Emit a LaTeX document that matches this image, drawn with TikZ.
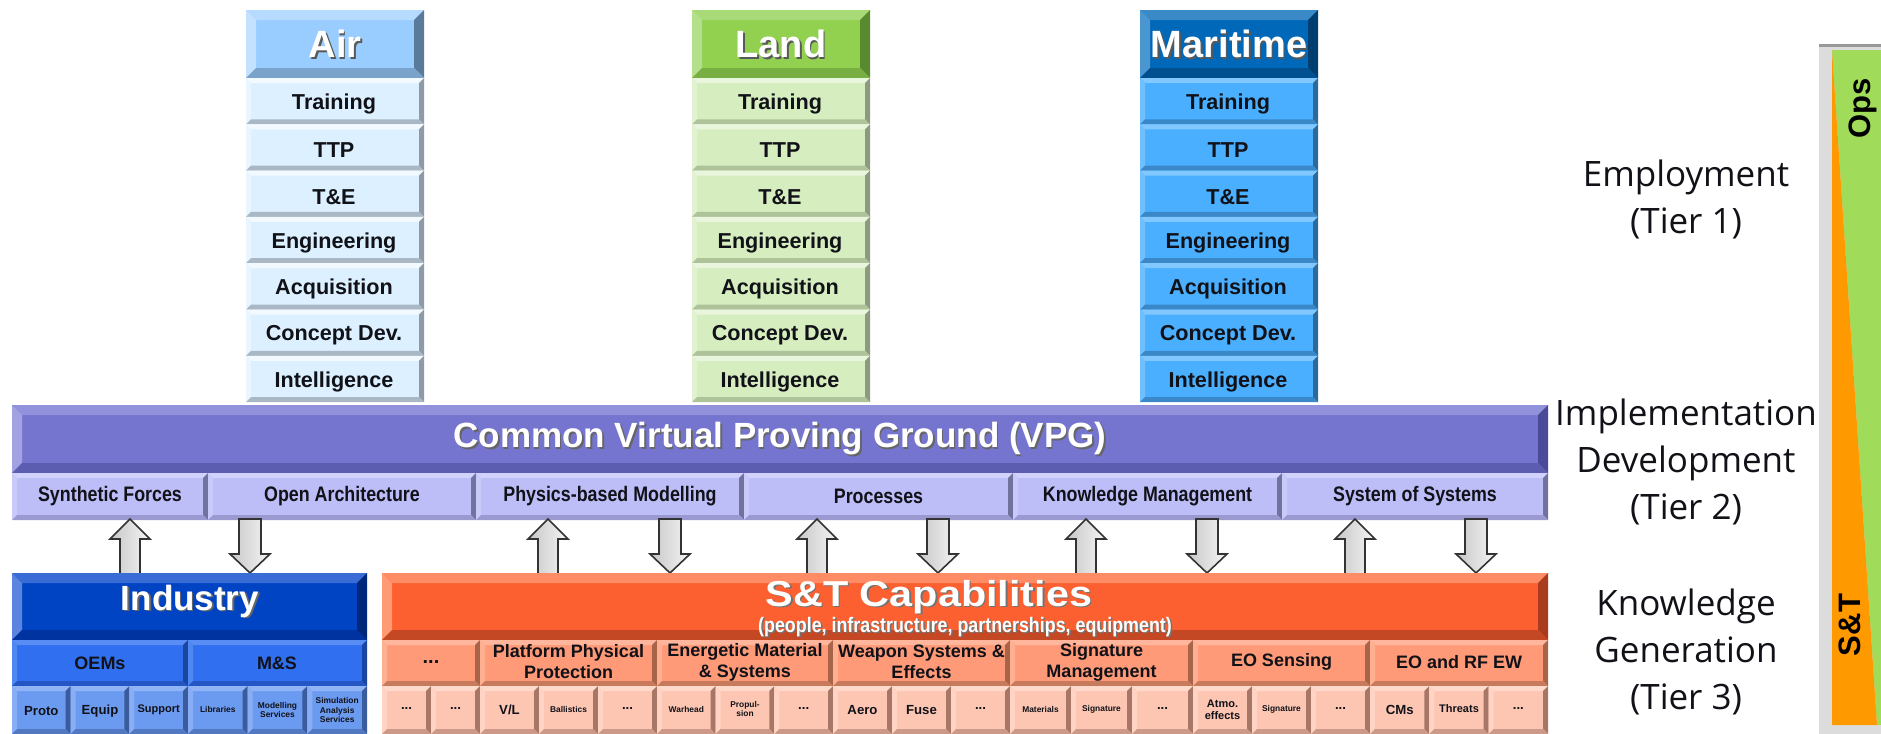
\documentclass[tikz,border=0pt]{standalone}
\usepackage{fontspec}
\setmainfont{Liberation Sans}
\newfontfamily\narrowf{Liberation Sans}[FakeStretch=0.85]
\newfontfamily\widef{Liberation Sans}[FakeStretch=1.15]
\newfontfamily\labelf{Open Sans}
\usetikzlibrary{calc}
% colour families: F face, T top, L left, R right, B bottom
\definecolor{airhF}{HTML}{99CCFF}\definecolor{airhT}{HTML}{B6DBFF}\definecolor{airhL}{HTML}{C4E2FF}\definecolor{airhR}{HTML}{5A7A99}\definecolor{airhB}{HTML}{7AA3CC}
\definecolor{airrF}{HTML}{DDF0FF}\definecolor{airrT}{HTML}{F2FAFF}\definecolor{airrL}{HTML}{E9F6FF}\definecolor{airrR}{HTML}{8E9AA6}\definecolor{airrB}{HTML}{A9B8C4}
\definecolor{landhF}{HTML}{92D050}\definecolor{landhT}{HTML}{A9DA78}\definecolor{landhL}{HTML}{B5E08B}\definecolor{landhR}{HTML}{5A8A30}\definecolor{landhB}{HTML}{78AE42}
\definecolor{landrF}{HTML}{D6EDC0}\definecolor{landrT}{HTML}{E9F6DD}\definecolor{landrL}{HTML}{E1F2D1}\definecolor{landrR}{HTML}{8C9A80}\definecolor{landrB}{HTML}{AEC39A}
\definecolor{marhF}{HTML}{0068B8}\definecolor{marhT}{HTML}{3A8AC8}\definecolor{marhL}{HTML}{4A96D0}\definecolor{marhR}{HTML}{003E70}\definecolor{marhB}{HTML}{00508F}
\definecolor{marrF}{HTML}{4AAFFF}\definecolor{marrT}{HTML}{80C8FF}\definecolor{marrL}{HTML}{70C0FF}\definecolor{marrR}{HTML}{2C6A9C}\definecolor{marrB}{HTML}{3A88C8}
\definecolor{vpgmF}{HTML}{7575D0}\definecolor{vpgmT}{HTML}{9292DC}\definecolor{vpgmL}{HTML}{A2A2E2}\definecolor{vpgmR}{HTML}{4A4A98}\definecolor{vpgmB}{HTML}{5C5CB0}
\definecolor{vpgsF}{HTML}{BDBDF8}\definecolor{vpgsT}{HTML}{D2D2FF}\definecolor{vpgsL}{HTML}{CACAFA}\definecolor{vpgsR}{HTML}{72729E}\definecolor{vpgsB}{HTML}{9A9AD0}
\definecolor{indmF}{HTML}{0044C4}\definecolor{indmT}{HTML}{3A6CD6}\definecolor{indmL}{HTML}{5A84E0}\definecolor{indmR}{HTML}{00287A}\definecolor{indmB}{HTML}{0033A0}
\definecolor{indrF}{HTML}{2F6FF0}\definecolor{indrT}{HTML}{5A8CF5}\definecolor{indrL}{HTML}{5088F2}\definecolor{indrR}{HTML}{1A45A0}\definecolor{indrB}{HTML}{2456C4}
\definecolor{indsF}{HTML}{6B9BF0}\definecolor{indsT}{HTML}{90B4F6}\definecolor{indsL}{HTML}{8AAEF5}\definecolor{indsR}{HTML}{3A5C9C}\definecolor{indsB}{HTML}{5278C2}
\definecolor{stmF}{HTML}{FD6030}\definecolor{stmT}{HTML}{FF8C64}\definecolor{stmL}{HTML}{FF9A74}\definecolor{stmR}{HTML}{A83C1C}\definecolor{stmB}{HTML}{C44824}
\definecolor{strF}{HTML}{FE9A78}\definecolor{strT}{HTML}{FFB69C}\definecolor{strL}{HTML}{FFB090}\definecolor{strR}{HTML}{A86448}\definecolor{strB}{HTML}{C87A5C}
\definecolor{stsF}{HTML}{FDC6B2}\definecolor{stsT}{HTML}{FFDACB}\definecolor{stsL}{HTML}{FFD4C4}\definecolor{stsR}{HTML}{A87666}\definecolor{stsB}{HTML}{CC9888}
\definecolor{opsgreen}{HTML}{A0DC5A}
\definecolor{storange}{HTML}{FF9900}
\definecolor{bargrey}{HTML}{DCDCDC}
\definecolor{ink}{HTML}{111118}
% bevelled box: x1 y1 x2 y2 bevel colourprefix
\newcommand{\bv}[6]{%
  \path[fill=#6F] (#1,#2) rectangle (#3,#4);
  \path[fill=#6T] (#1,#2) -- (#3,#2) -- ({#3-#5},{#2+#5}) -- ({#1+#5},{#2+#5}) -- cycle;
  \path[fill=#6L] (#1,#2) -- ({#1+#5},{#2+#5}) -- ({#1+#5},{#4-#5}) -- (#1,#4) -- cycle;
  \path[fill=#6R] (#3,#2) -- ({#3-#5},{#2+#5}) -- ({#3-#5},{#4-#5}) -- (#3,#4) -- cycle;
  \path[fill=#6B] (#1,#4) -- ({#1+#5},{#4-#5}) -- ({#3-#5},{#4-#5}) -- (#3,#4) -- cycle;
}
\newcommand{\uparr}[2]{% name, x
  \path[blockarrow] (#2-10,574) -- (#2-10,539) -- (#2-20,539) -- (#2,519) -- (#2+20,539) -- (#2+10,539) -- (#2+10,574) -- cycle;
  \coordinate (#1) at (#2,546);
}
\newcommand{\downarr}[2]{% name, x
  \path[blockarrow] (#2-11,519) -- (#2+11,519) -- (#2+11,554) -- (#2+20,554) -- (#2,573) -- (#2-20,554) -- (#2-11,554) -- cycle;
  \coordinate (#1) at (#2,546);
}
\tikzset{
  hdr/.style={font=\bfseries\fontsize{19}{22}\selectfont, text=white, inner sep=0pt},
  hdrsh/.style={hdr, text=black!65},
  rowtxt/.style={font=\bfseries\fontsize{10.8}{13}\selectfont, text=ink, inner sep=0pt},
  vpgt/.style={font=\bfseries\fontsize{17.5}{20}\selectfont, text=white, inner sep=0pt},
  vpgtsh/.style={vpgt, text=black!60},
  subtxt/.style={font=\narrowf\bfseries\fontsize{10.5}{12}\selectfont, text=ink, inner sep=0pt},
  indt/.style={font=\bfseries\fontsize{17.5}{20}\selectfont, text=white, inner sep=0pt},
  indtsh/.style={indt, text=black!60},
  stt/.style={font=\widef\bfseries\fontsize{18}{20}\selectfont, text=white, inner sep=0pt},
  sttsh/.style={stt, text=black!55},
  stsub/.style={font=\narrowf\bfseries\fontsize{10.5}{12}\selectfont, text=white, inner sep=0pt},
  stsubsh/.style={stsub, text=black!55},
  midtxt/.style={font=\bfseries\fontsize{9}{10.5}\selectfont, text=ink, inner sep=0pt, align=center},
  smA/.style={font=\bfseries\fontsize{6.6}{7.5}\selectfont, text=ink, inner sep=0pt, align=center},
  smB/.style={font=\bfseries\fontsize{5.5}{6.2}\selectfont, text=ink, inner sep=0pt, align=center},
  smC/.style={font=\bfseries\fontsize{4.2}{4.8}\selectfont, text=ink, inner sep=0pt, align=center},
  tier/.style={font=\labelf\fontsize{17.5}{23.5}\selectfont, text=ink, inner sep=0pt, align=center},
  vert/.style={font=\bfseries\fontsize{15.5}{17}\selectfont, text=black, inner sep=0pt, rotate=90},
  blockarrow/.style={draw=black!80, line width=0.8pt, line join=miter, left color=black!22, right color=black!4},
}
\begin{document}
\begin{tikzpicture}[x=0.5pt,y=-0.5pt]
\useasboundingbox (0,0) rectangle (1881,734);

% ---------- three service columns ----------
\foreach \cx/\p/\ttl in {246/air/Air,692/land/Land,1140/mar/Maritime}{
  \pgfmathsetmacro{\cxx}{\cx+178}
  \bv{\cx}{10}{\cxx}{78}{10}{\p h}
  \node[hdrsh] (\p-hs) at ({\cx+90.5},45.5) {\ttl};
  \node[hdr] (\p-h) at ({\cx+89},44) {\ttl};
  \foreach \r/\lab in {0/Training,1/TTP,2/T\&E,3/Engineering,4/Acquisition,5/Concept Dev.,6/Intelligence}{
    \pgfmathsetmacro{\ya}{78+46.3*\r}
    \pgfmathsetmacro{\yb}{\ya+46.3}
    \bv{\cx}{\ya}{\cxx}{\yb}{5}{\p r}
    \node[rowtxt] (\p-r\r) at ({\cx+88},{(\ya+\yb)/2+3}) {\lab};
  }
}

% ---------- Common VPG ----------
\bv{12}{405}{1548}{473}{10}{vpgm}
\node[vpgtsh] (vpg-s) at (781.5,440.5) {Common Virtual Proving Ground (VPG)};
\node[vpgt] (vpg) at (780,439) {Common Virtual Proving Ground (VPG)};
\foreach \a/\b/\lab/\n in {12/208/Synthetic Forces/1,208/476/Open Architecture/2,476/744/Physics-based Modelling/3,744/1013/Processes/4,1013/1282/Knowledge Management/5,1282/1548/System of Systems/6}{
  \bv{\a}{473}{\b}{520}{5}{vpgs}
  \node[subtxt] (vpg-\n) at ({(\a+\b)/2},496) {\lab};
}

% ---------- exchange arrows ----------
\uparr{u1}{130}\downarr{d1}{250}
\uparr{u2}{548}\downarr{d2}{670}
\uparr{u3}{817}\downarr{d3}{938}
\uparr{u4}{1086}\downarr{d4}{1207}
\uparr{u5}{1355}\downarr{d5}{1476}

% ---------- Industry ----------
\bv{12}{573}{367}{640}{10}{indm}
\node[indtsh] (ind-s) at (191.5,602.5) {Industry};
\node[indt] (ind) at (190,601) {Industry};
\bv{12}{640}{188}{686}{5}{indr}
\bv{188}{640}{367}{686}{5}{indr}
\node[midtxt] (oems) at (100,663) {OEMs};
\node[midtxt] (ms) at (277,663) {M\&S};
\bv{12}{686}{70.7}{734}{5}{inds}
\bv{70.7}{686}{129.3}{734}{5}{inds}
\bv{129.3}{686}{188}{734}{5}{inds}
\bv{188}{686}{247.7}{734}{5}{inds}
\bv{247.7}{686}{307.3}{734}{5}{inds}
\bv{307.3}{686}{367}{734}{5}{inds}
\node[smA] (proto) at (41.3,711) {Proto};
\node[smA] (equip) at (100,711) {Equip};
\node[smB] (support) at (158.7,710) {Support};
\node[smC] (libr) at (217.8,709) {Libraries};
\node[smC] (mods) at (277.5,710) {Modelling\\Services};
\node[smC] (sims) at (337.2,710) {Simulation\\Analysis\\Services};

% ---------- S&T Capabilities ----------
\bv{382}{573}{1548}{640}{10}{stm}
\node[sttsh] (st-s) at (930.5,598.5) {S\&T Capabilities};
\node[stt] (st) at (929,597) {S\&T Capabilities};
\node[stsubsh] (stsub-s) at (966.5,628.5) {(people, infrastructure, partnerships, equipment)};
\node[stsub] (stsub) at (965,627) {(people, infrastructure, partnerships, equipment)};
\foreach \a/\b/\lab/\n in {382/480/{\fontsize{10}{11}\selectfont...}/1,480/657/{Platform Physical\\Protection}/2,657/833/{Energetic Material\\\& Systems}/3,833/1010/{Weapon Systems \&\\Effects}/4,1010/1193/{Signature\\Management}/5,1193/1370/{EO Sensing}/6,1370/1548/{EO and RF EW}/7}{
  \bv{\a}{640}{\b}{686}{5}{str}
  \node[midtxt] (cap-\n) at ({(\a+\b)/2},662) {\lab};
}
% third row
\bv{382}{686}{431}{734}{5}{sts}
\bv{431}{686}{480}{734}{5}{sts}
\node[smA] (c1a) at (406.5,709) {...};
\node[smA] (c1b) at (455.5,709) {...};
\foreach \a/\b/\n in {480/657/2,657/833/3,833/1010/4,1010/1193/5,1193/1370/6,1370/1548/7}{
  \pgfmathsetmacro{\w}{(\b-\a)/3}
  \pgfmathsetmacro{\pa}{\a+\w}
  \pgfmathsetmacro{\pb}{\a+2*\w}
  \bv{\a}{686}{\pa}{734}{5}{sts}
  \bv{\pa}{686}{\pb}{734}{5}{sts}
  \bv{\pb}{686}{\b}{734}{5}{sts}
  \node[smA] (c\n c) at ({\pb+\w/2},709) {...};
}
\node[smA] (vl) at (509.5,710) {V/L};
\node[smC] (ball) at (568.5,709) {Ballistics};
\node[smC] (warh) at (686.3,709) {Warhead};
\node[smC] (prop) at (745,709) {Propul-\\sion};
\node[smA] (aero) at (862.5,710) {Aero};
\node[smA] (fuse) at (921.5,710) {Fuse};
\node[smC] (matl) at (1040.5,709) {Materials};
\node[smC] (sig1) at (1101.5,709) {Signature};
\node[smB] (atmo) at (1222.5,710) {Atmo.\\effects};
\node[smC] (sig2) at (1281.5,709) {Signature};
\node[smA] (cms) at (1399.7,710) {CMs};
\node[smB] (thr) at (1459,709) {Threats};

% ---------- tier labels ----------
\node[tier] (t1) at (1686,199) {Employment\\(Tier 1)};
\node[tier] (t2) at (1686,462) {Implementation\\Development\\(Tier 2)};
\node[tier] (t3) at (1686,652) {Knowledge\\Generation\\(Tier 3)};

% ---------- Ops / S&T bar ----------
\fill[bargrey] (1819,44) rectangle (1881,734);
\fill[black!40] (1819,44) rectangle (1881,47);
\fill[opsgreen] (1832,50) -- (1881,50) -- (1881,725) -- (1877,725) -- cycle;
\fill[storange] (1832,50) -- (1877,725) -- (1832,725) -- cycle;
\node[vert] (ops) at (1863,108) {Ops};
\node[vert] (snt) at (1850,625) {S\&T};
\end{tikzpicture}
\end{document}
